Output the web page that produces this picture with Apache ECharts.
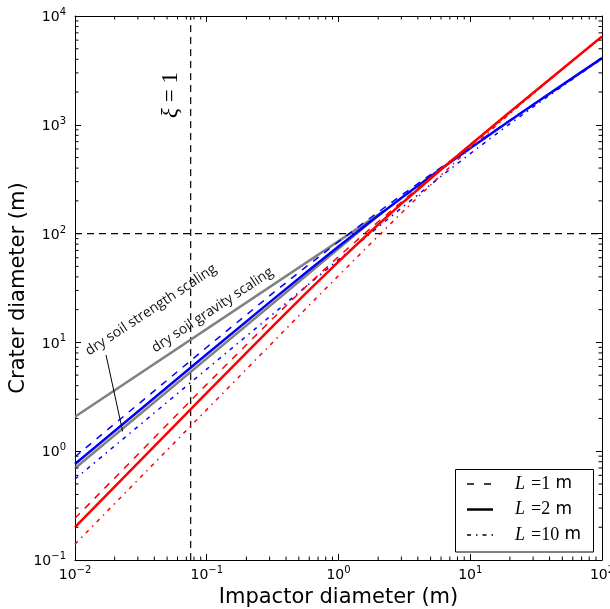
<!DOCTYPE html>
<html><head><meta charset="utf-8">
<script src="https://cdn.jsdelivr.net/npm/echarts@6/dist/echarts.min.js"></script>
<style>html,body{margin:0;padding:0;background:#fff}#c{width:610px;height:609px}</style>
</head><body><div id="c"></div>
<script>
// ---- data ----
const impactorD = [0.01, 0.1, 0.316, 0.562, 1, 1.78, 3.16, 5.62, 10, 17.8, 31.6, 56.2, 100];
const blueL1  = [0.889, 9.02, 28.2, 49.1, 84.3, 142.1, 235.2, 384, 621, 1000, 1603, 2565, 4111];
const blueL2  = [0.762, 7.78, 24.6, 43.5, 76.2, 131.5, 223.2, 372, 610, 990, 1594, 2559, 4102];
const blueL10 = [0.555, 5.68, 18.1, 32.4, 57.6, 102.3, 180.6, 315.6, 543.5, 920, 1527, 2498, 4050];
const redL1   = [0.2415, 4.115, 16.52, 32.3, 61.4, 113.6, 205.9, 368.8, 656.6, 1167, 2068, 3663, 6486];
const redL2   = [0.200, 3.43, 14.04, 28.1, 55.3, 106.2, 198.6, 362.4, 651, 1166, 2063, 3663, 6486];
const redL10  = [0.140, 2.41, 9.97, 20.3, 41.0, 82.6, 164.3, 320.3, 607.6, 1121, 2029, 3633, 6464];
const grayX = [0.01, 2.2];
const gravityY = [2.075, 161];
const strengthY = [0.697, 161];
const xiOneX = 0.0755;
const refCraterY = 100;
const arrowX = [0.0172, 0.023];
const arrowY = [7.66, 1.52];
const xRange = [0.01, 100];
const yRange = [0.1, 10000];
const legendL = ['=1', '=2', '=10'];

const pairs = (xs, ys) => xs.map((x, i) => [x, ys[i]]);
const supFmt = v => { const e = Math.round(Math.log10(v)); return '{b|10}{s|' + String(e).replace('-', '\u2212') + '}'; };
const labRich = {
  b: {fontSize: 14, fontFamily: 'DejaVu Sans', color: '#000', verticalAlign: 'bottom'},
  s: {fontSize: 10, fontFamily: 'DejaVu Sans', color: '#000', verticalAlign: 'bottom', padding: [0, 0, 7, 0]}
};
const tickStyle = {inside: true, length: 6, lineStyle: {color: '#000', width: 1}};
const axLine = {show: true, onZero: false, lineStyle: {color: '#000', width: 1}};

function line(name, ys, color, width, type, xs) {
  return {name, type: 'line', data: pairs(xs || impactorD, ys), showSymbol: false, symbol: 'none',
    lineStyle: {color, width, type}, silent: true, z: 3};
}

const legendRows = [484, 509.5, 535];
const legendSamples = [
  {lineWidth: 1.5, lineDash: [7, 10]},
  {lineWidth: 2.5},
  {lineWidth: 1.5, lineDash: [4, 5, 1.5, 5]}
];
const legendChildren = [
  {type: 'rect', shape: {x: 455.5, y: 469.5, width: 138, height: 82.5}, style: {fill: '#fff', stroke: '#000', lineWidth: 1}}
];
legendRows.forEach((y, i) => {
  legendChildren.push({type: 'line', shape: {x1: 467, y1: y, x2: 493, y2: y}, style: Object.assign({stroke: '#000'}, legendSamples[i])});
  legendChildren.push({type: 'text', x: 515, y: y, style: {text: 'L', font: 'italic 18px "Liberation Serif"', fill: '#000', align: 'left', verticalAlign: 'middle'}});
  legendChildren.push({type: 'text', x: 531, y: y, style: {text: '{r|' + legendL[i] + '}{s| m}', align: 'left', verticalAlign: 'middle',
    rich: {r: {fontFamily: 'Liberation Serif', fontSize: 18, fill: '#000'}, s: {fontFamily: 'DejaVu Sans', fontSize: 17, fill: '#000'}}}});
});

const chart = echarts.init(document.getElementById('c'), null, {renderer: 'canvas'});
const option = {
  animation: false,
  grid: {left: 75, top: 16, right: 8, bottom: 49, containLabel: false, outerBoundsMode: 'none'},
  xAxis: [
    {type: 'log', logBase: 10, min: xRange[0], max: xRange[1], splitNumber: 4, position: 'bottom',
     axisLine: axLine, axisTick: tickStyle, splitLine: {show: false},
     axisLabel: {formatter: supFmt, rich: labRich, margin: 5},
     name: 'Impactor diameter (m)', nameLocation: 'middle', nameGap: 27, nameMoveOverlap: false,
     nameTextStyle: {fontSize: 21, fontFamily: 'DejaVu Sans', color: '#000'}},
    {type: 'log', logBase: 10, min: xRange[0], max: xRange[1], splitNumber: 4, position: 'top',
     axisLine: axLine, axisTick: tickStyle, splitLine: {show: false}, axisLabel: {show: false}}
  ],
  yAxis: [
    {type: 'log', logBase: 10, min: yRange[0], max: yRange[1], splitNumber: 5, position: 'left',
     axisLine: axLine, axisTick: tickStyle, splitLine: {show: false},
     axisLabel: {formatter: supFmt, rich: labRich, margin: 9},
     name: 'Crater diameter (m)', nameLocation: 'middle', nameGap: 46, nameRotate: 90, nameMoveOverlap: false,
     nameTextStyle: {fontSize: 21, fontFamily: 'DejaVu Sans', color: '#000'}},
    {type: 'log', logBase: 10, min: yRange[0], max: yRange[1], splitNumber: 5, position: 'right',
     axisLine: axLine, axisTick: tickStyle, splitLine: {show: false}, axisLabel: {show: false}}
  ],
  series: [
    {type: 'line', data: [[xiOneX, yRange[0]], [xiOneX, yRange[1]]], showSymbol: false, symbol: 'none',
     lineStyle: {color: '#000', width: 1.2, type: [7, 5]}, silent: true, z: 2},
    {type: 'line', data: [[xRange[0], refCraterY], [xRange[1], refCraterY]], showSymbol: false, symbol: 'none',
     lineStyle: {color: '#000', width: 1.2, type: [7, 5]}, silent: true, z: 2},
    line('gravity', gravityY, '#808080', 2.5, 'solid', grayX),
    line('strength', strengthY, '#808080', 2.5, 'solid', grayX),
    line('blue1', blueL1, '#0000ff', 1.5, [7, 7]),
    line('blue10', blueL10, '#0000ff', 1.5, [4, 5, 1.5, 5]),
    line('blue2', blueL2, '#0000ff', 2.5, 'solid'),
    line('red1', redL1, '#ff0000', 1.5, [7, 7]),
    line('red10', redL10, '#ff0000', 1.5, [4, 5, 1.5, 5]),
    line('red2', redL2, '#ff0000', 2.5, 'solid'),
    line('arrow', arrowY, '#000', 1, 'solid', arrowX),
    {type: 'custom', silent: true, clip: false, z: 5, data: [[xRange[0], yRange[0]]],
     renderItem: function (params, api) {
       const ch = []; const L = 3.5; const st = {stroke: '#000', lineWidth: 1};
       for (let k = -2; k < 2; k++) for (let m = 2; m < 10; m++) {
         const v = m * Math.pow(10, k);
         const b = api.coord([v, yRange[0]]), t = api.coord([v, yRange[1]]);
         ch.push({type: 'line', shape: {x1: b[0], y1: b[1], x2: b[0], y2: b[1] - L}, style: st});
         ch.push({type: 'line', shape: {x1: t[0], y1: t[1], x2: t[0], y2: t[1] + L}, style: st});
       }
       for (let k = -1; k < 4; k++) for (let m = 2; m < 10; m++) {
         const v = m * Math.pow(10, k);
         const l = api.coord([xRange[0], v]), r = api.coord([xRange[1], v]);
         ch.push({type: 'line', shape: {x1: l[0], y1: l[1], x2: l[0] + L, y2: l[1]}, style: st});
         ch.push({type: 'line', shape: {x1: r[0], y1: r[1], x2: r[0] - L, y2: r[1]}, style: st});
       }
       return {type: 'group', children: ch};
     }}
  ],
  graphic: [
    {type: 'text', x: 151, y: 310, rotation: 33.5 * Math.PI / 180, z: 10,
     style: {text: 'dry soil strength scaling', font: '14px "Open Sans"', fill: '#111', align: 'center', verticalAlign: 'middle'}},
    {type: 'text', x: 212.5, y: 310, rotation: 33.5 * Math.PI / 180, z: 10,
     style: {text: 'dry soil gravity scaling', font: '14px "Open Sans"', fill: '#111', align: 'center', verticalAlign: 'middle'}},
    {type: 'text', x: 171, y: 95, rotation: Math.PI / 2, z: 10,
     style: {text: '{i|\u03be} = 1', font: '23px "Liberation Serif"', fill: '#000', align: 'center', verticalAlign: 'middle',
       rich: {i: {fontStyle: 'italic', fontSize: 23, fontFamily: 'Liberation Serif'}}}},
    {type: 'group', z: 20, children: legendChildren}
  ]
};
chart.setOption(option);
</script></body></html>
